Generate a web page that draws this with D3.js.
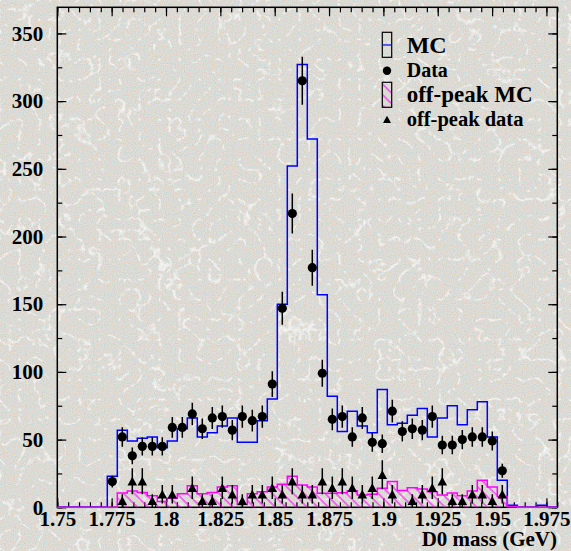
<!DOCTYPE html>
<html>
<head>
<meta charset="utf-8">
<script src="https://cdn.jsdelivr.net/npm/d3@7"></script>
<style>
  html, body { margin: 0; padding: 0; background: #e6e4dd; }
  svg { display: block; font-family: "Liberation Serif", "Times New Roman", serif; font-weight: bold; }
</style>
</head>
<body>
<svg id="chart" width="571" height="551"></svg>
<script>
// Histogram binning of the D0 mass axis
const binLow = 1.75;
const binWidth = 0.0046;
const nBins = 50;

// Signal MC (blue outline)
const mcCounts = [
  0, 0, 0, 0, 0,   23, 57, 49, 51, 52,
  44, 49, 58, 66, 52,   55, 60, 66, 48, 48,
  64, 80, 150, 252, 327,   272, 157, 82, 56, 71,
  60, 55, 87, 61, 62,   68, 73, 52, 66, 75,
  61, 72, 78, 52, 20,   1.5, 0, 0, 1.5, 0
];

// Data (filled circles)
const dataCounts = [
  null, null, null, null, null,   19, 52, 38, 45, 45,
  45, 59, 59, 69, 58,   66, 67, 57, 67, 64,
  67, 91, 147, 217, 315,   177, 99, 65, 67, 52,
  66, 48, 47, 71, 56,   58, 57, 67, 46, 46,
  50, 52, 52, 49, 27,   null, null, null, null, null
];

// Off-peak MC (magenta hatched)
const offMcCounts = [
  0, 0, 0, 0, 0,   0, 10.5, 12, 11, 8.5,
  4.2, 6.6, 10, 16, 10,   11, 15, 16, 2, 10,
  11.5, 15, 17, 23, 16.5,   15, 10.3, 10.3, 10.8, 12.3,
  9.1, 9.6, 14, 19, 12.5,   14.5, 13.5, 11.5, 9, 10.5,
  8.5, 12, 20, 15, 8,   0.5, 0, 0, 0, 0
];

// Off-peak data (filled triangles), scaled by luminosity
const offDataScale = 4.8;
const offDataCounts = [
  null, null, null, null, null,   null, 4.8, 19.2, 19.2, 4.8,
  9.6, 9.6, null, 14.4, 4.8,   4.8, 14.4, 9.6, 4.8, 9.6,
  9.6, 14.4, 9.6, 19.2, 9.6,   9.6, 19.2, 14.4, 19.2, 14.4,
  9.6, 14.4, 24, 9.6, null,   4.8, 9.6, 14.4, 19.2, 4.8,
  4.8, 9.6, 9.6, 4.8, 9.6,   null, null, null, null, null
];

const xTicks = [1.75, 1.775, 1.8, 1.825, 1.85, 1.875, 1.9, 1.925, 1.95, 1.975];
const xTickLabels = ["1.75", "1.775", "1.8", "1.825", "1.85", "1.875", "1.9", "1.925", "1.95", "1.975"];
const yTicks = [0, 50, 100, 150, 200, 250, 300, 350];
const yTickLabels = ["0", "50", "100", "150", "200", "250", "300", "350"];
const xTitle = "D0 mass (GeV)";
const legendLabels = ["MC", "Data", "off-peak MC", "off-peak data"];

const W = 571, H = 551;
const frame = { left: 57.3, top: 7.3, right: 557.3, bottom: 507.3 };

const x = d3.scaleLinear().domain([1.75, 1.98]).range([frame.left, frame.right]);
const y = d3.scaleLinear().domain([0, 369.3]).range([frame.bottom, frame.top]);

const svg = d3.select("#chart");
const defs = svg.append("defs");

// Marbled canvas texture
const tex = defs.append("filter").attr("id", "veins").attr("x", 0).attr("y", 0).attr("width", 1).attr("height", 1);
tex.append("feTurbulence").attr("type", "turbulence").attr("baseFrequency", "0.05").attr("numOctaves", 3).attr("seed", 7).attr("result", "t");
tex.append("feColorMatrix").attr("in", "t").attr("type", "matrix")
  .attr("values", "0 0 0 0 1  0 0 0 0 1  0 0 0 0 1  -6 0 0 0 0.95");
const grain = defs.append("filter").attr("id", "grain").attr("x", 0).attr("y", 0).attr("width", 1).attr("height", 1);
grain.append("feTurbulence").attr("type", "fractalNoise").attr("baseFrequency", "0.9").attr("numOctaves", 1).attr("seed", 3).attr("result", "n");
grain.append("feColorMatrix").attr("in", "n").attr("type", "matrix")
  .attr("values", "1.6 0 0 0 -0.2  0 0.6 0.6 0 0  0 0 1.6 0 -0.2  0 0 0 0 0.45");

svg.append("rect").attr("width", W).attr("height", H).attr("fill", "#e2e0d8");
svg.append("rect").attr("width", W).attr("height", H).attr("filter", "url(#grain)").attr("opacity", 0.6);
svg.append("rect").attr("width", W).attr("height", H).attr("filter", "url(#veins)").attr("opacity", 0.85);

// Hatch for the off-peak MC
const hatch = defs.append("pattern").attr("id", "hatch")
  .attr("patternUnits", "userSpaceOnUse").attr("width", 7.5).attr("height", 7.5)
  .attr("patternTransform", "rotate(-45)");
hatch.append("line").attr("x1", 1).attr("y1", 0).attr("x2", 1).attr("y2", 7.5)
  .attr("stroke", "#ff00ff").attr("stroke-width", 1);

const edges = d3.range(nBins + 1).map(i => binLow + i * binWidth);
const centers = d3.range(nBins).map(i => binLow + (i + 0.5) * binWidth);

function stepPath(counts) {
  const pts = [[edges[0], 0]];
  counts.forEach((v, i) => { pts.push([edges[i], v]); pts.push([edges[i + 1], v]); });
  pts.push([edges[nBins], 0]);
  return d3.line().x(d => x(d[0])).y(d => y(d[1]))(pts);
}

const plot = svg.append("g");

// MC histogram
plot.append("path").attr("d", stepPath(mcCounts))
  .attr("fill", "none").attr("stroke", "#0000ff").attr("stroke-width", 1.5);

// Off-peak MC histogram
plot.append("path").attr("d", stepPath(offMcCounts))
  .attr("fill", "url(#hatch)").attr("stroke", "#ff00ff").attr("stroke-width", 1.5);

// Axes with ticks on all four sides
function styleAxis(g) {
  g.select(".domain").remove();
  g.selectAll(".tick line").attr("stroke", "#000").attr("stroke-width", 1.2);
  g.selectAll(".tick text").attr("fill", "#000").attr("font-size", 21)
    .attr("font-family", "Liberation Serif, serif").attr("font-weight", "bold");
}
const xMinor = d3.range(0, 47).map(k => 1.75 + k * 0.005).filter(v => v <= 1.98);
const yMinor = d3.range(0, 15).map(k => k * 25).filter(v => v <= 369);

svg.append("g").attr("transform", `translate(0,${frame.bottom})`)
  .call(d3.axisBottom(x).tickValues(xMinor).tickSize(-5).tickFormat(""))
  .call(styleAxis);
svg.append("g").attr("transform", `translate(0,${frame.top})`)
  .call(d3.axisTop(x).tickValues(xMinor).tickSize(-5).tickFormat(""))
  .call(styleAxis);
svg.append("g").attr("transform", `translate(0,${frame.bottom})`)
  .call(d3.axisBottom(x).tickValues(xTicks).tickSize(-9).tickPadding(4)
    .tickFormat((d, i) => xTickLabels[i]))
  .call(styleAxis);
svg.append("g").attr("transform", `translate(0,${frame.top})`)
  .call(d3.axisTop(x).tickValues(xTicks).tickSize(-9).tickFormat(""))
  .call(styleAxis);

svg.append("g").attr("transform", `translate(${frame.left},0)`)
  .call(d3.axisLeft(y).tickValues(yMinor).tickSize(-5).tickFormat(""))
  .call(styleAxis);
svg.append("g").attr("transform", `translate(${frame.right},0)`)
  .call(d3.axisRight(y).tickValues(yMinor).tickSize(-5).tickFormat(""))
  .call(styleAxis);
svg.append("g").attr("transform", `translate(${frame.left},0)`)
  .call(d3.axisLeft(y).tickValues(yTicks).tickSize(-9).tickPadding(14)
    .tickFormat((d, i) => yTickLabels[i]))
  .call(styleAxis);
svg.append("g").attr("transform", `translate(${frame.right},0)`)
  .call(d3.axisRight(y).tickValues(yTicks).tickSize(-9).tickFormat(""))
  .call(styleAxis);

// Frame
svg.append("rect")
  .attr("x", frame.left).attr("y", frame.top)
  .attr("width", frame.right - frame.left).attr("height", frame.bottom - frame.top)
  .attr("fill", "none").attr("stroke", "#000").attr("stroke-width", 1.5);

// Histogram baselines sit over the frame edge
plot.raise();

const clip = defs.append("clipPath").attr("id", "frameClip");
clip.append("rect").attr("x", frame.left).attr("y", frame.top)
  .attr("width", frame.right - frame.left).attr("height", frame.bottom - frame.top);

const marks = svg.append("g").attr("clip-path", "url(#frameClip)");

function triangle(cx, cy, r) {
  return `M${cx - r},${cy + r * 0.85}L${cx + r},${cy + r * 0.85}L${cx},${cy - r * 0.95}Z`;
}

// Off-peak data with errors
const offData = offDataCounts.map((v, i) => ({ v, c: centers[i] })).filter(d => d.v !== null);
marks.selectAll("line.offerr").data(offData).join("line").attr("class", "offerr")
  .attr("x1", d => x(d.c)).attr("x2", d => x(d.c))
  .attr("y1", d => y(d.v + Math.sqrt(d.v * offDataScale)))
  .attr("y2", d => y(Math.max(0, d.v - Math.sqrt(d.v * offDataScale))))
  .attr("stroke", "#000").attr("stroke-width", 1.5);
marks.selectAll("path.offpt").data(offData).join("path").attr("class", "offpt")
  .attr("d", d => triangle(x(d.c), y(d.v), 4.8)).attr("fill", "#000");

// Data with errors
const data = dataCounts.map((v, i) => ({ v, c: centers[i] })).filter(d => d.v !== null);
marks.selectAll("line.derr").data(data).join("line").attr("class", "derr")
  .attr("x1", d => x(d.c)).attr("x2", d => x(d.c))
  .attr("y1", d => y(d.v + Math.sqrt(d.v)))
  .attr("y2", d => y(d.v - Math.sqrt(d.v)))
  .attr("stroke", "#000").attr("stroke-width", 1.5);
marks.selectAll("circle.dpt").data(data).join("circle").attr("class", "dpt")
  .attr("cx", d => x(d.c)).attr("cy", d => y(d.v)).attr("r", 4.6).attr("fill", "#000");

// Axis title
svg.append("text").attr("x", 557).attr("y", 545.5).attr("text-anchor", "end")
  .attr("font-size", 21).attr("fill", "#000").text(xTitle);

// Legend
const leg = svg.append("g");
const lx = 382.3, lw = 9.4, tx = 406.7;
leg.append("rect").attr("x", lx).attr("y", 32.3).attr("width", lw).attr("height", 25)
  .attr("fill", "none").attr("stroke", "#000").attr("stroke-width", 1.2);
leg.append("line").attr("x1", lx).attr("x2", lx + lw).attr("y1", 45).attr("y2", 45)
  .attr("stroke", "#0000ff").attr("stroke-width", 1.2);
leg.append("circle").attr("cx", lx + lw / 2).attr("cy", 70.7).attr("r", 4.2).attr("fill", "#000");
leg.append("rect").attr("x", lx).attr("y", 82.3).attr("width", lw).attr("height", 25)
  .attr("fill", "url(#hatch)").attr("stroke", "#000").attr("stroke-width", 1.2);
leg.append("path").attr("d", triangle(lx + lw / 2, 119.5, 4)).attr("fill", "#000");

const legSizes = [24, 20, 23, 20.5];
const legBase = [53.3, 77.3, 101.7, 126];
legendLabels.forEach((t, i) => {
  leg.append("text").attr("x", tx).attr("y", legBase[i])
    .attr("font-size", legSizes[i]).attr("fill", "#000").text(t);
});
</script>
</body>
</html>
